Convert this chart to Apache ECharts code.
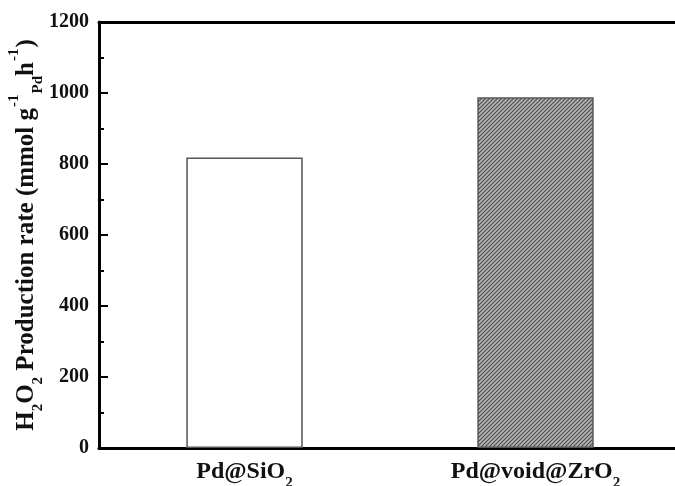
<!DOCTYPE html>
<html>
<head>
<meta charset="utf-8">
<script src="https://cdn.jsdelivr.net/npm/echarts@6/dist/echarts.min.js"></script>
<style>
  html, body { margin: 0; padding: 0; background: #fff; }
  #chart { width: 675px; height: 486px; }
</style>
</head>
<body>
<div id="chart"></div>
<script>
// H2O2 production rate of the two catalysts
const categories = ['Pd@SiO2', 'Pd@void@ZrO2'];
const productionRate = [818, 988];
const yTicks = { min: 0, max: 1200, interval: 200 };

const FONT = '"Liberation Serif", "Times New Roman", serif';

// diagonal hatch used for the second bar
function hatchPattern() {
  const c = document.createElement('canvas');
  c.width = 4; c.height = 4;
  const g = c.getContext('2d');
  g.fillStyle = '#b8b8b8';
  g.fillRect(0, 0, 4, 4);
  g.strokeStyle = '#4a4a4a';
  g.lineWidth = 1.2;
  g.beginPath();
  g.moveTo(-1, 5); g.lineTo(5, -1);
  g.moveTo(-1, 1); g.lineTo(1, -1);
  g.moveTo(3, 5); g.lineTo(5, 3);
  g.stroke();
  return c;
}

const barStyles = [
  { color: '#ffffff', borderColor: '#555555', borderWidth: 1.5 },
  { color: { image: hatchPattern(), repeat: 'repeat' }, borderColor: '#555555', borderWidth: 1.5 }
];

const chart = echarts.init(document.getElementById('chart'), null, { renderer: 'canvas' });

chart.setOption({
  animation: false,
  backgroundColor: '#ffffff',
  grid: { left: 99, top: 22, width: 582, height: 426, containLabel: false, outerBoundsMode: 'none' },
  xAxis: [
    {
      type: 'category',
      data: categories,
      position: 'bottom',
      axisLine: { lineStyle: { color: '#000', width: 3 } },
      axisTick: { show: false },
      axisLabel: {
        margin: 12,
        fontFamily: FONT, fontWeight: 'bold', fontSize: 24, color: '#111',
        formatter: v => v.replace(/(\d+)$/, '{s|$1}'),
        rich: {
          s: { fontFamily: FONT, fontWeight: 'bold', fontSize: 15, color: '#111', verticalAlign: 'bottom', padding: [0, 0, -7, 0] }
        }
      }
    },
    {
      type: 'category',
      data: categories,
      position: 'top',
      axisLine: { lineStyle: { color: '#000', width: 3 } },
      axisTick: { show: false },
      axisLabel: { show: false }
    }
  ],
  yAxis: {
    type: 'value',
    min: yTicks.min, max: yTicks.max, interval: yTicks.interval,
    axisLine: { show: true, lineStyle: { color: '#000', width: 3 } },
    axisTick: { show: true, inside: true, length: 9, lineStyle: { color: '#000', width: 2 } },
    minorTick: { show: true, splitNumber: 2, length: 5, lineStyle: { color: '#000', width: 2 } },
    splitLine: { show: false },
    axisLabel: {
      margin: 10, fontFamily: FONT, fontWeight: 'bold', fontSize: 20, color: '#111',
      formatter: v => String(v)
    },
    name: '{b|H}{s|2}{b|O}{s|2}{b| Production rate (mmol g}{p|-1}{s|Pd}{b|h}{p|-1}{b|)}',
    nameLocation: 'middle',
    nameRotate: 90,
    nameGap: 60,
    nameMoveOverlap: false,
    nameTextStyle: {
      rich: {
        b: { fontFamily: FONT, fontWeight: 'bold', fontSize: 25, color: '#111' },
        s: { fontFamily: FONT, fontWeight: 'bold', fontSize: 15, color: '#111', verticalAlign: 'bottom', padding: [0, 0, -7, 0] },
        p: { fontFamily: FONT, fontWeight: 'bold', fontSize: 15, color: '#111', verticalAlign: 'top', padding: [-7, 1, 0, 1] }
      }
    }
  },
  series: [{
    type: 'bar',
    xAxisIndex: 0,
    barWidth: '40%',
    data: productionRate.map((v, i) => ({ value: v, itemStyle: barStyles[i] }))
  }]
});
</script>
</body>
</html>
